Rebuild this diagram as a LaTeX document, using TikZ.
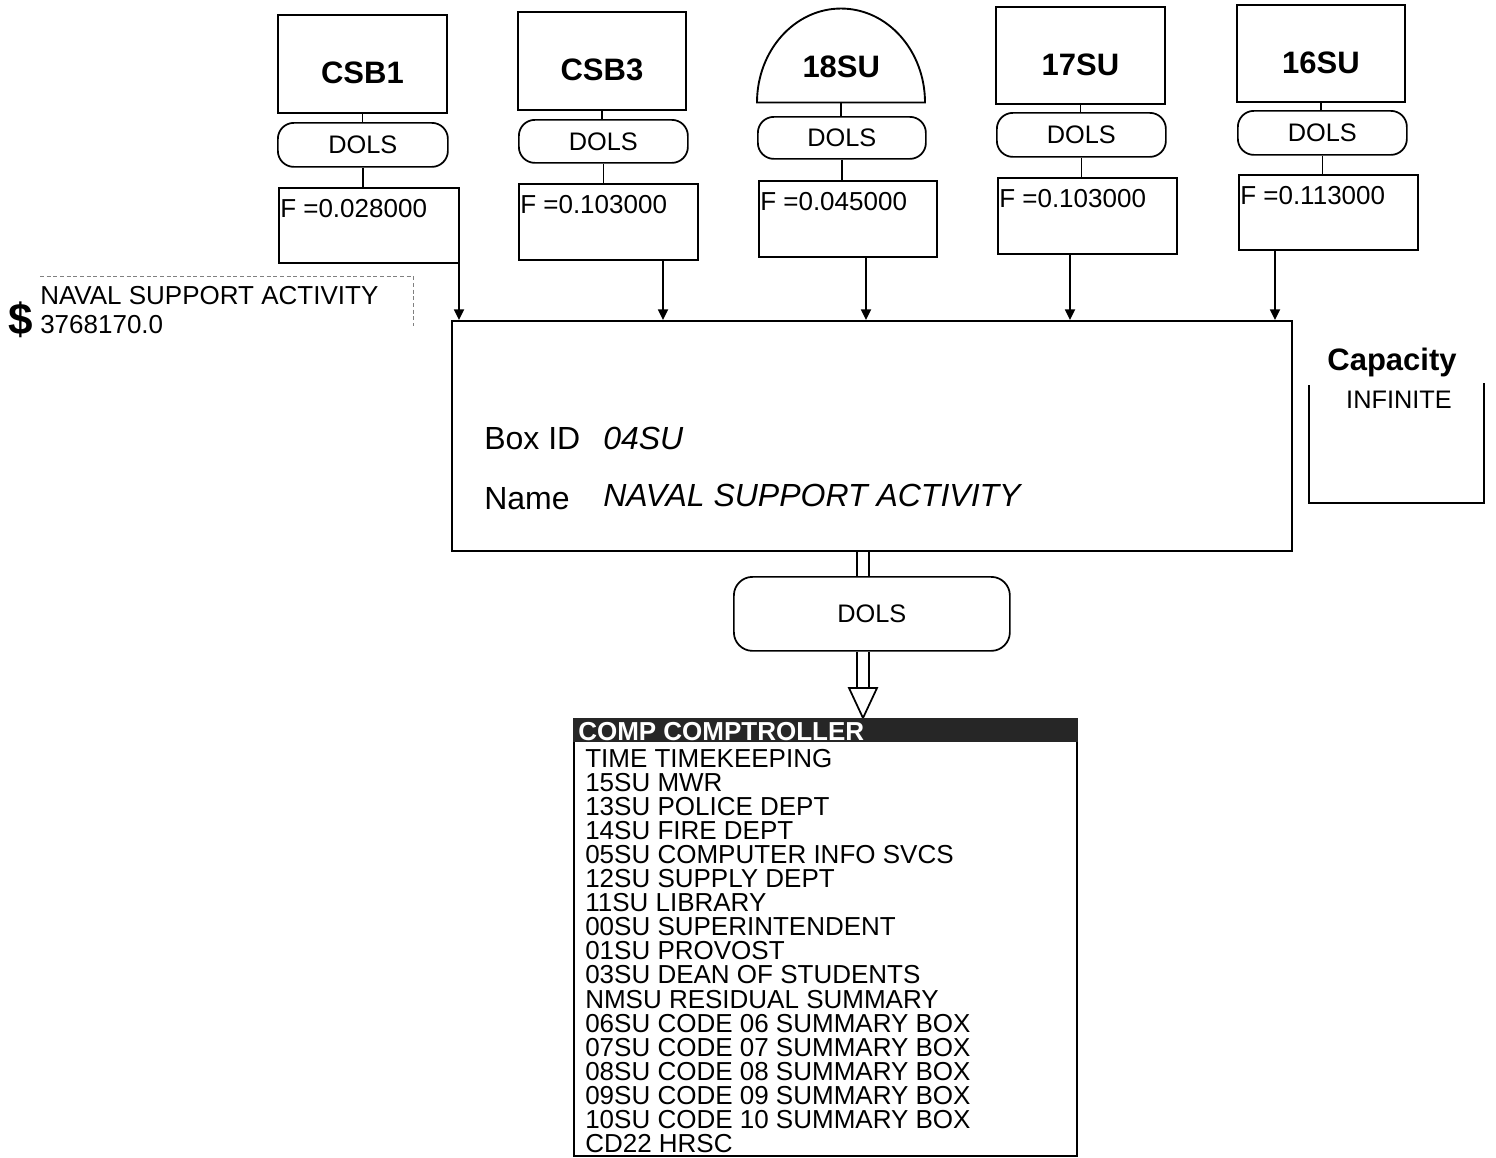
\documentclass[tikz,border=0pt]{standalone}
\usepackage{fontspec}
\setmainfont{Liberation Sans}
\usetikzlibrary{calc,arrows.meta}
\newcommand\pxu{0.75pt}
\begin{document}
\begin{tikzpicture}[x=0.75pt,y=-0.75pt,
  boxline/.style={line width=1.4pt},
  srcbox/.style={draw, boxline, inner sep=0pt, anchor=north west,
    font=\fontsize{23.25}{23.25}\selectfont\bfseries, text height=30pt, text depth=0pt},
  dolsbox/.style={draw, line width=1.3pt, rounded corners=12pt, inner sep=0pt, anchor=north west,
    font=\fontsize{19}{19}\selectfont},
  fbox/.style={draw, boxline, inner sep=0pt, anchor=north west},
  ftext/.style={anchor=base west, inner sep=0pt, font=\fontsize{19.5}{19.5}\selectfont},
  link/.style={line width=1.3pt},
  arr/.style={line width=1.3pt, -{Triangle[length=8pt,width=7.5pt]}},
  maintext/.style={anchor=base west, inner sep=0pt, font=\fontsize{24}{24}\selectfont},
  listtext/.style={anchor=base west, inner sep=0pt, font=\fontsize{19.5}{19.5}\selectfont},
]
\useasboundingbox (0,0) rectangle (1496,1157);

% main box
\node[fbox, minimum width=840*\pxu, minimum height=230*\pxu] (main) at (451,320) {};
\node[maintext] (bid) at (484,449) {Box ID};
\node[maintext, font=\fontsize{24}{24}\selectfont\itshape] (bidv) at (603,449) {04SU};
\node[maintext] (nm) at (484,509) {Name};
\node[maintext, font=\fontsize{24}{24}\selectfont\itshape] (nmv) at (603,506) {NAVAL SUPPORT ACTIVITY};

% column 1
\node[srcbox, minimum width=169*\pxu, minimum height=98*\pxu] (s1) at (277,14) {CSB1};
\node[dolsbox, minimum width=170*\pxu, minimum height=44*\pxu] (d1) at (277,122) {DOLS};
\node[fbox, minimum width=180*\pxu, minimum height=75*\pxu] (f1) at (278,187) {};
\node[ftext] (ft1) at ($(f1.north west)+(2,30)$) {F =0.028000};
\draw[link] (s1.south) -- (s1.south |- d1.north);
\draw[link] (d1.south) -- (d1.south |- f1.north);
\coordinate (a1) at (459,0);
\draw[arr] (f1.south -| a1) -- (main.north -| a1);

% column 2
\node[srcbox, minimum width=168*\pxu, minimum height=98*\pxu] (s2) at (517,11) {CSB3};
\node[dolsbox, minimum width=169*\pxu, minimum height=43*\pxu] (d2) at (518,119) {DOLS};
\node[fbox, minimum width=179*\pxu, minimum height=76*\pxu] (f2) at (518,183) {};
\node[ftext] (ft2) at ($(f2.north west)+(2,30)$) {F =0.103000};
\draw[link] (s2.south) -- (s2.south |- d2.north);
\draw[link] (d2.south) -- (d2.south |- f2.north);
\coordinate (a2) at (663,0);
\draw[arr] (f2.south -| a2) -- (main.north -| a2);

% column 3 (dome)
\node[inner sep=0pt, anchor=north west, minimum width=168*\pxu, minimum height=94*\pxu,
  font=\fontsize{23.25}{23.25}\selectfont\bfseries, text height=33pt, text depth=0pt] (s3) at (757,8) {18SU};
\draw[boxline] (s3.south west) arc[start angle=180, end angle=360, x radius=84, y radius=94] -- cycle;
\node[dolsbox, minimum width=168*\pxu, minimum height=42*\pxu] (d3) at (757,116) {DOLS};
\node[fbox, minimum width=178*\pxu, minimum height=76*\pxu] (f3) at (758,180) {};
\node[ftext] (ft3) at ($(f3.north west)+(2,30)$) {F =0.045000};
\draw[link] (s3.south) -- (s3.south |- d3.north);
\draw[link] (d3.south) -- (d3.south |- f3.north);
\coordinate (a3) at (866,0);
\draw[arr] (f3.south -| a3) -- (main.north -| a3);

% column 4
\node[srcbox, minimum width=169*\pxu, minimum height=97*\pxu] (s4) at (995,6) {17SU};
\node[dolsbox, minimum width=169*\pxu, minimum height=44*\pxu] (d4) at (996,112) {DOLS};
\node[fbox, minimum width=179*\pxu, minimum height=76*\pxu] (f4) at (997,177) {};
\node[ftext] (ft4) at ($(f4.north west)+(2,30)$) {F =0.103000};
\draw[link] (s4.south) -- (s4.south |- d4.north);
\draw[link] (d4.south) -- (d4.south |- f4.north);
\coordinate (a4) at (1070,0);
\draw[arr] (f4.south -| a4) -- (main.north -| a4);

% column 5
\node[srcbox, minimum width=168*\pxu, minimum height=97*\pxu] (s5) at (1236,4) {16SU};
\node[dolsbox, minimum width=169*\pxu, minimum height=44*\pxu] (d5) at (1237,110) {DOLS};
\node[fbox, minimum width=179*\pxu, minimum height=75*\pxu] (f5) at (1238,174) {};
\node[ftext] (ft5) at ($(f5.north west)+(2,30)$) {F =0.113000};
\draw[link] (s5.south) -- (s5.south |- d5.north);
\draw[link] (d5.south) -- (d5.south |- f5.north);
\coordinate (a5) at (1275,0);
\draw[arr] (f5.south -| a5) -- (main.north -| a5);

% dollar label
\draw[densely dashed, gray, line width=0.6pt] (40,276) -- (413,276) -- (413,326);
\node[anchor=base west, inner sep=0pt, font=\fontsize{33}{33}\selectfont\bfseries] (dollar) at (8,334) {\$};
\node[ftext] (nsa) at (40,304) {NAVAL SUPPORT ACTIVITY};
\node[ftext] (amt) at (40,333) {3768170.0};

% capacity
\node[anchor=base, inner sep=0pt, font=\fontsize{23.25}{23.25}\selectfont\bfseries] (cap) at (1392,370) {Capacity};
\node[anchor=base, inner sep=0pt, font=\fontsize{19}{19}\selectfont] (capv) at (1399,408) {INFINITE};
\draw[boxline] (1309,385) -- (1309,503) -- (1484,503) -- (1484,383);

% bottom DOLS and double arrow
\node[dolsbox, rounded corners=14pt, minimum width=276*\pxu, minimum height=74*\pxu] (dB) at (733,576) {DOLS};
\coordinate (cL) at (857,0);
\coordinate (cR) at (869,0);
\coordinate (cM) at (863,0);
\coordinate (tb) at (863,688);
\draw[link] (main.south -| cL) -- (dB.north -| cL);
\draw[link] (main.south -| cR) -- (dB.north -| cR);
\draw[link] (dB.south -| cL) -- (tb -| cL);
\draw[link] (dB.south -| cR) -- (tb -| cR);

% comp box
\node[fbox, minimum width=503*\pxu, minimum height=437*\pxu] (comp) at (573,718) {};
\draw[link, fill=white] ($(tb)+(-14,0)$) -- ($(tb)+(14,0)$) -- (comp.north -| cM) -- cycle;
\fill[black!85] (comp.north west) rectangle ($(comp.north east)+(0,24)$);
\node[anchor=base west, inner sep=0pt, text=white, font=\fontsize{19.5}{19.5}\selectfont\bfseries] (hdr) at (578,740) {COMP COMPTROLLER};
\foreach \t [count=\i from 0] in {TIME TIMEKEEPING, 15SU MWR, 13SU POLICE DEPT, 14SU FIRE DEPT,
  05SU COMPUTER INFO SVCS, 12SU SUPPLY DEPT, 11SU LIBRARY, 00SU SUPERINTENDENT,
  01SU PROVOST, 03SU DEAN OF STUDENTS, NMSU RESIDUAL SUMMARY,
  06SU CODE 06 SUMMARY BOX, 07SU CODE 07 SUMMARY BOX, 08SU CODE 08 SUMMARY BOX,
  09SU CODE 09 SUMMARY BOX, 10SU CODE 10 SUMMARY BOX, CD22 HRSC}
  \node[listtext] (li\i) at (585,{767+24.1*\i}) {\t};
\end{tikzpicture}
\end{document}
